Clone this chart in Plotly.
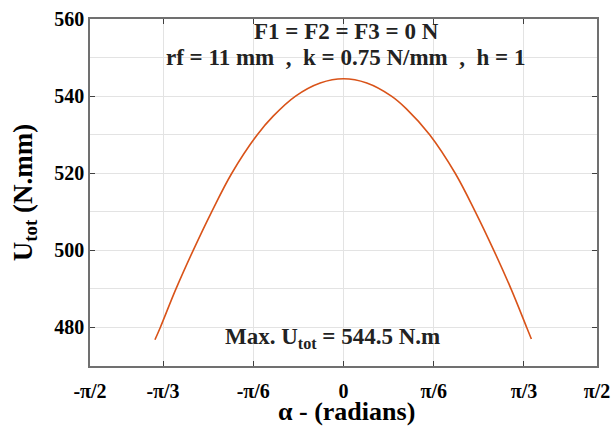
import numpy as np
import plotly.graph_objects as go

# values (alpha in rad, U_tot in N.mm)
alpha = [-1.094, -1.063, -0.972, -0.872, -0.765, -0.648, -0.500, -0.408, -0.278, -0.135,
         0.0, 0.135, 0.278, 0.365, 0.500, 0.648, 0.765, 0.872, 0.972, 1.063, 1.090]
u_tot = [476.8, 480.0, 490.0, 500.0, 510.0, 520.0, 530.0, 534.8, 540.0, 543.4,
         544.5, 543.4, 540.0, 536.7, 530.0, 520.0, 510.0, 500.0, 490.0, 480.0, 477.0]

x_lim = np.pi / 2 - 0.1
x_ticks = [-x_lim, -np.pi / 3, -np.pi / 6, 0, np.pi / 6, np.pi / 3, x_lim]
x_labels = ["-π/2", "-π/3", "-π/6", "0", "π/6", "π/3", "π/2"]
y_ticks = [480, 500, 520, 540, 560]

serif = "Liberation Serif"
nb = "\u00a0"
title_font = dict(family=serif, size=27, color="black", weight="bold")

fig = go.Figure()
fig.add_trace(go.Scatter(
    x=alpha, y=u_tot, mode="lines", line_shape="spline",
    line=dict(color="#D95319", width=1.6), showlegend=False,
))

axis_style = dict(
    showline=True, linecolor="#707070", linewidth=1.5, mirror="ticks",
    ticks="inside", ticklen=5, tickcolor="#404040",
    showgrid=True, gridcolor="#e3e3e3", gridwidth=1, zeroline=False,
    tickfont=dict(family=serif, size=20, color="black", weight="bold"),
    automargin=False,
)

fig.update_xaxes(
    range=[-x_lim, x_lim], tickvals=x_ticks, ticktext=x_labels, ticklabelstandoff=6,
    **axis_style,
)
fig.update_yaxes(
    range=[470, 560], tickvals=y_ticks,
    minor=dict(dtick=10, showgrid=True, gridcolor="#e3e3e3", ticks=""),
    title=dict(text="U<sub>tot</sub> (N.mm)", font=title_font, standoff=14),
    **axis_style,
)

# x-axis title as a paper annotation so it sits where the reference has it
fig.add_annotation(xref="paper", yref="paper", x=0.505, y=0, yanchor="middle", yshift=-45,
                   text="α - (radians)", showarrow=False,
                   font=dict(family=serif, size=26, color="black", weight="bold"))

ann_font = dict(family=serif, size=23, color="#222222", weight="bold")
fig.add_annotation(x=0.02, y=556.8, text="F1 = F2 = F3 = 0 N", showarrow=False, font=ann_font)
fig.add_annotation(x=0.01, y=550.0,
                   text=f"rf = 11 mm{nb}{nb},{nb}{nb}k = 0.75 N/mm{nb}{nb},{nb}{nb}h = 1",
                   showarrow=False, font=ann_font)
fig.add_annotation(x=-0.065, y=477.2, text="Max. U<sub>tot</sub> = 544.5 N.m", showarrow=False, font=ann_font)

fig.update_layout(
    width=614, height=428,
    margin=dict(l=90, r=17, t=19, b=62),
    plot_bgcolor="white", paper_bgcolor="white",
)

fig.write_html("out.html", config={"displayModeBar": False},
               post_script="document.body.style.margin='0px';")
